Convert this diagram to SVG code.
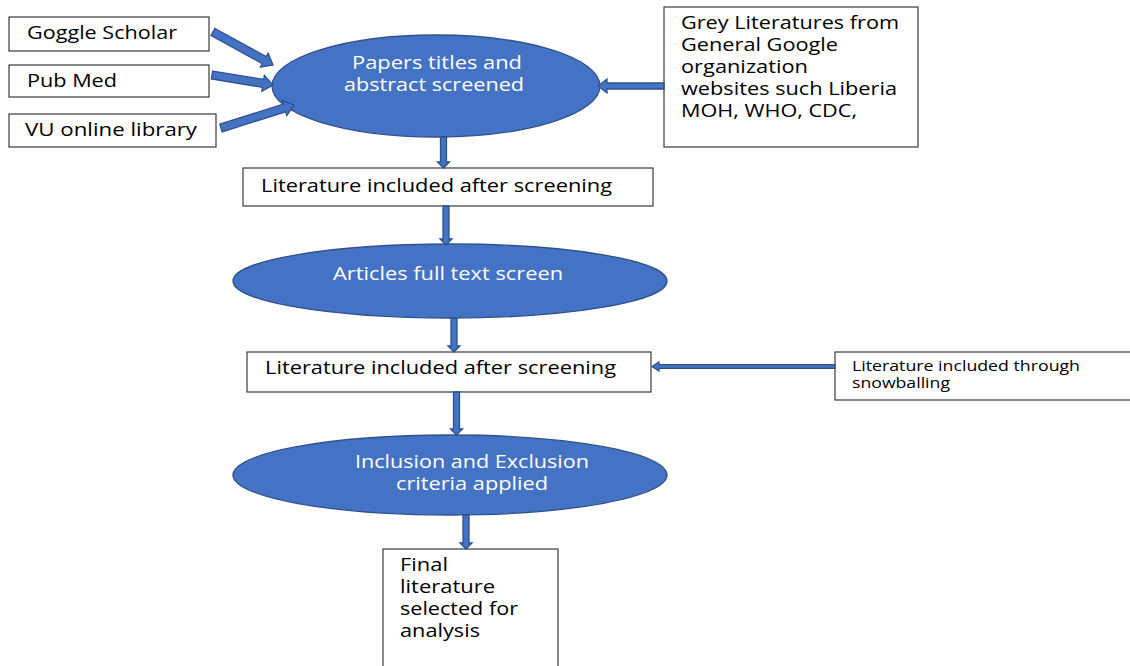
<svg xmlns="http://www.w3.org/2000/svg" width="1130" height="666" viewBox="0 0 1130 666">
<style>
.box{fill:#fff;stroke:#3a3a3a;stroke-width:1.2}
.ell{fill:#4472C4;stroke:#2F528F;stroke-width:1.3}
.arr{fill:#4472C4;stroke:#2F528F;stroke-width:1.3;stroke-linejoin:miter}
.t{font-family:"Open Sans","Liberation Sans",sans-serif;font-size:18px;fill:#000}
.w{font-family:"Open Sans","Liberation Sans",sans-serif;font-size:18px;fill:#fff}
.s{font-family:"Open Sans","Liberation Sans",sans-serif;font-size:14px;fill:#000}
</style>
<rect width="1130" height="666" fill="#fff"/>
<g id="goggle"><rect class="box" x="9" y="17" width="200" height="34"/><text class="t" x="27" y="39" textLength="150" lengthAdjust="spacingAndGlyphs">Goggle Scholar</text></g>
<g id="pubmed"><rect class="box" x="9" y="65" width="200" height="32"/><text class="t" x="27" y="87" textLength="90" lengthAdjust="spacingAndGlyphs">Pub Med</text></g>
<g id="vu"><rect class="box" x="9" y="114" width="207" height="33"/><text class="t" x="25" y="136" textLength="172" lengthAdjust="spacingAndGlyphs">VU online library</text></g>
<g id="papers"><ellipse class="ell" cx="436" cy="86" rx="164" ry="51"/><text class="w" x="352" y="69" textLength="170" lengthAdjust="spacingAndGlyphs">Papers titles and</text><text class="w" x="344" y="91" textLength="180" lengthAdjust="spacingAndGlyphs">abstract screened</text></g>
<g id="grey"><rect class="box" x="664" y="7" width="254" height="140"/>
<text class="t" x="681" y="29" textLength="218" lengthAdjust="spacingAndGlyphs">Grey Literatures from</text>
<text class="t" x="681" y="51" textLength="157" lengthAdjust="spacingAndGlyphs">General Google</text>
<text class="t" x="681" y="73" textLength="127" lengthAdjust="spacingAndGlyphs">organization</text>
<text class="t" x="681" y="95" textLength="216" lengthAdjust="spacingAndGlyphs">websites such Liberia</text>
<text class="t" x="681" y="117" textLength="176" lengthAdjust="spacingAndGlyphs">MOH, WHO, CDC,</text></g>
<g id="lit1"><rect class="box" x="243" y="168" width="410" height="38"/><text class="t" x="261" y="192" textLength="351" lengthAdjust="spacingAndGlyphs">Literature included after screening</text></g>
<g id="articles"><ellipse class="ell" cx="450" cy="281" rx="217" ry="37"/><text class="w" x="333" y="280" textLength="230" lengthAdjust="spacingAndGlyphs">Articles full text screen</text></g>
<g id="lit2"><rect class="box" x="247" y="352" width="404" height="40"/><text class="t" x="265" y="374" textLength="351" lengthAdjust="spacingAndGlyphs">Literature included after screening</text></g>
<g id="snow"><rect class="box" x="835" y="352" width="300" height="48"/><text class="s" x="852" y="371" textLength="228" lengthAdjust="spacingAndGlyphs">Literature included through</text><text class="s" x="852" y="388" textLength="98" lengthAdjust="spacingAndGlyphs">snowballing</text></g>
<g id="criteria"><ellipse class="ell" cx="450" cy="475" rx="217" ry="40"/><text class="w" x="355" y="468" textLength="234" lengthAdjust="spacingAndGlyphs">Inclusion and Exclusion</text><text class="w" x="396" y="490" textLength="152" lengthAdjust="spacingAndGlyphs">criteria applied</text></g>
<g id="final"><rect class="box" x="383" y="549" width="175" height="120"/>
<text class="t" x="400" y="571" textLength="48" lengthAdjust="spacingAndGlyphs">Final</text>
<text class="t" x="400" y="593" textLength="95" lengthAdjust="spacingAndGlyphs">literature</text>
<text class="t" x="400" y="615" textLength="118" lengthAdjust="spacingAndGlyphs">selected for</text>
<text class="t" x="400" y="637" textLength="80" lengthAdjust="spacingAndGlyphs">analysis</text></g>
<g id="connectors">
<polygon class="arr" transform="translate(213,32) rotate(28.8)" points="0,-4 58.5,-4 58.5,-8 68.5,0 58.5,8 58.5,4 0,4"/>
<polygon class="arr" transform="translate(212,75) rotate(9.3)" points="0,-4 51.8,-4 51.8,-8 61.8,0 51.8,8 51.8,4 0,4"/>
<polygon class="arr" transform="translate(221,128) rotate(-17.5)" points="0,-4 66.5,-4 66.5,-8 76.5,0 66.5,8 66.5,4 0,4"/>
<polygon class="arr" points="664,83 607,83 607,79 598,86 607,93 607,89 664,89"/>
<polygon class="arr" points="440.5,137 446.5,137 446.5,162 449.5,162 443.5,168 437.5,162 440.5,162"/>
<polygon class="arr" points="443,206 449,206 449,239 452,239 446,245 440,239 443,239"/>
<polygon class="arr" points="451,318 457,318 457,346 460,346 454,352 448,346 451,346"/>
<polygon class="arr" points="453.5,392 459.5,392 459.5,429 462.5,429 456.5,435 450.5,429 453.5,429"/>
<polygon class="arr" points="463,515 469,515 469,543 472,543 466,549 460,543 463,543"/>
<polygon class="arr" points="835,364.7 659,364.7 659,362 652,366.5 659,371 659,368.3 835,368.3"/>
</g>
</svg>
